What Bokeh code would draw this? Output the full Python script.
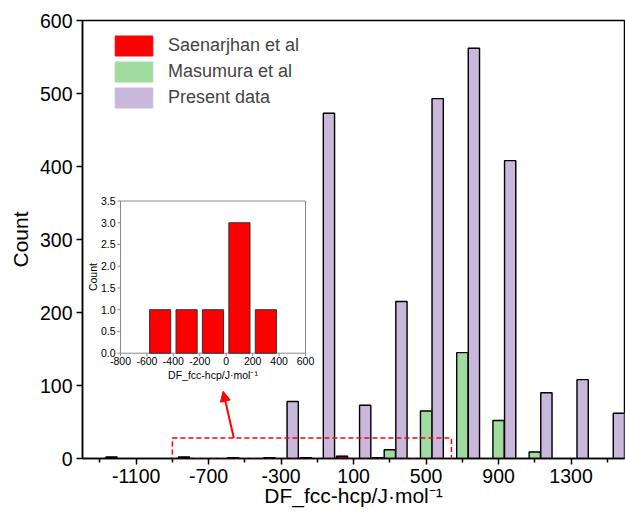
import math
from bokeh.plotting import figure
from bokeh.models import (FixedTicker, BoxAnnotation, Arrow, NormalHead, Legend,
                          LegendItem, ColumnDataSource, Range1d)
from bokeh.core.properties import value
from bokeh.embed import file_html
from bokeh.resources import INLINE

# ---------------- data ----------------
bin_centers = [-1300, -1100, -900, -700, -500, -300, -100, 100, 300, 500, 700, 900, 1100, 1300, 1500]
saenarjhan = [0, 0, 0, 0, 1, 1, 1, 3, 1, 0, 0, 0, 0, 0, 0]
masumura = [0, 0, 0, 0, 0, 0, 0, 0, 12, 65, 145, 52, 9, 0, 0]
present = [2, 0, 2, 0, 0, 78, 473, 73, 215, 493, 562, 408, 90, 108, 62]

series_names = ["Saenarjhan et al", "Masumura et al", "Present data"]
series_colors = ["#FF0000", "#A0DBA0", "#CAB8DC"]

x_major_ticks = [-1100, -700, -300, 100, 500, 900, 1300]
x_minor_ticks = [-1300, -900, -500, -100, 300, 700, 1100, 1500]
y_major_ticks = [0, 100, 200, 300, 400, 500, 600]

inset_x_ticks = [-800, -600, -400, -200, 0, 200, 400, 600]
inset_y_ticks = [0, 0.5, 1.0, 1.5, 2.0, 2.5, 3.0, 3.5]

FONT = "Liberation Sans"
XLABEL = "DF_fcc-hcp/J\u00b7mol\u207b\u00b9"

# ---------------- layout geometry (pixels) ----------------
W, H = 625, 519
BL, BR, BT, BB = 82, 1, 20, 61
FR_L, FR_R, FR_T, FR_B = BL, W - BR, BT, H - BB
# inset frame position inside the page
IN_L, IN_R, IN_T, IN_B = 120, 305, 200.5, 352.7
ix0, ix1 = inset_x_ticks[0], inset_x_ticks[-1]
iy0, iy1 = inset_y_ticks[0], inset_y_ticks[-1]
ixs = (IN_R - IN_L) / (ix1 - ix0)   # px per unit
iys = (IN_B - IN_T) / (iy1 - iy0)

# ---------------- main figure ----------------
p = figure(width=W, height=H, x_range=(-1396, 1595), y_range=(0, 600),
           output_backend="svg", toolbar_location=None,
           min_border_left=BL, min_border_right=BR, min_border_top=BT, min_border_bottom=BB)
p.grid.visible = False
p.outline_line_color = "black"
p.outline_line_width = 1.5
p.background_fill_color = "white"
p.extra_x_ranges = {"ix": Range1d(ix0 - (IN_L - FR_L) / ixs, ix1 + (FR_R - IN_R) / ixs)}
p.extra_y_ranges = {"iy": Range1d(iy0 - (FR_B - IN_B) / iys, iy1 + (IN_T - FR_T) / iys)}

bar_w = 62
offsets = [-64, 0, 64]
all_series = [saenarjhan, masumura, present]
legend_items = []
for name, vals, off, col in zip(series_names, all_series, offsets, series_colors):
    xs = [c + off for c, v in zip(bin_centers, vals) if v > 0]
    ts = [v for v in vals if v > 0]
    src = ColumnDataSource(dict(x=xs, top=ts))
    # outline-free copy underneath, used only for the legend swatch
    sw = p.vbar(x="x", top="top", width=bar_w, bottom=0, source=src,
                fill_color=col, line_color=col, line_width=1)
    p.vbar(x="x", top="top", width=bar_w, bottom=0, source=src,
           fill_color=col, line_color="black", line_width=1.4)
    legend_items.append(LegendItem(label=name, renderers=[sw]))

legend = Legend(items=legend_items,
                location=(23, 343), glyph_width=47, glyph_height=25, spacing=1,
                padding=5, margin=0, label_standoff=11,
                label_text_font_size="18px", label_text_font=FONT,
                border_line_alpha=0, background_fill_alpha=0)
p.add_layout(legend)

# axes
p.xaxis.ticker = FixedTicker(ticks=x_major_ticks, minor_ticks=x_minor_ticks)
p.yaxis.ticker = FixedTicker(ticks=y_major_ticks, minor_ticks=[])
p.xaxis.major_label_overrides = {t: str(t) for t in x_major_ticks}
for ax in (p.xaxis, p.yaxis):
    ax.axis_line_width = 1.5
    ax.major_tick_line_width = 1.5
    ax.minor_tick_line_width = 1.5
    ax.major_tick_in = 0
    ax.major_tick_out = 6
    ax.minor_tick_in = 0
    ax.minor_tick_out = 4
    ax.major_label_text_font = FONT
    ax.major_label_text_font_size = "19.5px"
    ax.major_label_text_color = "black"
    ax.axis_label_text_font = FONT
    ax.axis_label_text_font_style = "normal"
    ax.axis_label_text_color = "black"
p.xaxis.axis_label = XLABEL
p.xaxis.axis_label_text_font_size = "21px"
p.xaxis.major_label_standoff = 4
p.xaxis.axis_label_standoff = -2
p.yaxis.axis_label = "Count"
p.yaxis.axis_label_text_font_size = "21px"
p.yaxis.major_label_standoff = 4
p.yaxis.axis_label_standoff = 5

# dashed box + arrow
p.add_layout(BoxAnnotation(left=-900, right=640, bottom=-1, top=28,
                           fill_alpha=0, line_color="red", line_alpha=1, line_width=1.5,
                           line_dash="5 3"))
p.add_layout(Arrow(end=NormalHead(size=10, fill_color="red", line_color="red"),
                   x_start=-561, y_start=28, x_end=-620, y_end=92,
                   line_color="red", line_width=2))

# ---------------- inset (drawn on its own extra ranges) ----------------
inset_x = [c for c, v in zip(bin_centers, saenarjhan) if v > 0]
inset_counts = [v for v in saenarjhan if v > 0]
R = dict(x_range_name="ix", y_range_name="iy")
GRAY = "#8a8a8a"
TF = value(FONT)
IFS = "10.5px"

p.quad(left=[ix0], right=[ix1], bottom=[iy0], top=[iy1],
       fill_color="white", line_color=GRAY, line_width=1, **R)
p.vbar(x=inset_x, top=inset_counts, width=160, bottom=0,
       fill_color="#FF0000", line_color="#333333", line_width=1, **R)
# x ticks + labels
nx = len(inset_x_ticks)
p.segment(x0=inset_x_ticks, y0=[iy0] * nx, x1=inset_x_ticks, y1=[iy0 - 3 / iys] * nx,
          line_color=GRAY, line_width=1, **R)
p.text(x=inset_x_ticks, y=[iy0 - 4 / iys] * nx, text=[str(t) for t in inset_x_ticks],
       text_align="center", text_baseline="top", text_font=TF,
       text_font_size=IFS, text_color="black", **R)
# y ticks + labels
ny = len(inset_y_ticks)
p.segment(x0=[ix0] * ny, y0=inset_y_ticks, x1=[ix0 - 3 / ixs] * ny, y1=inset_y_ticks,
          line_color=GRAY, line_width=1, **R)
p.text(x=[ix0 - 5 / ixs] * ny, y=inset_y_ticks, text=["%.1f" % t for t in inset_y_ticks],
       text_align="right", text_baseline="middle", text_font=TF,
       text_font_size=IFS, text_color="black", **R)
# axis titles
p.text(x=[(ix0 + ix1) / 2], y=[iy0 - 16 / iys], text=[XLABEL],
       text_align="center", text_baseline="top", text_font=TF,
       text_font_size=IFS, text_color="black", **R)
p.text(x=[ix0 - 28 / ixs], y=[(iy0 + iy1) / 2], text=["Count"], angle=math.pi / 2,
       text_align="center", text_baseline="middle", text_font=TF,
       text_font_size=IFS, text_color="black", **R)

open("out.html", "w").write(file_html(p, INLINE))
